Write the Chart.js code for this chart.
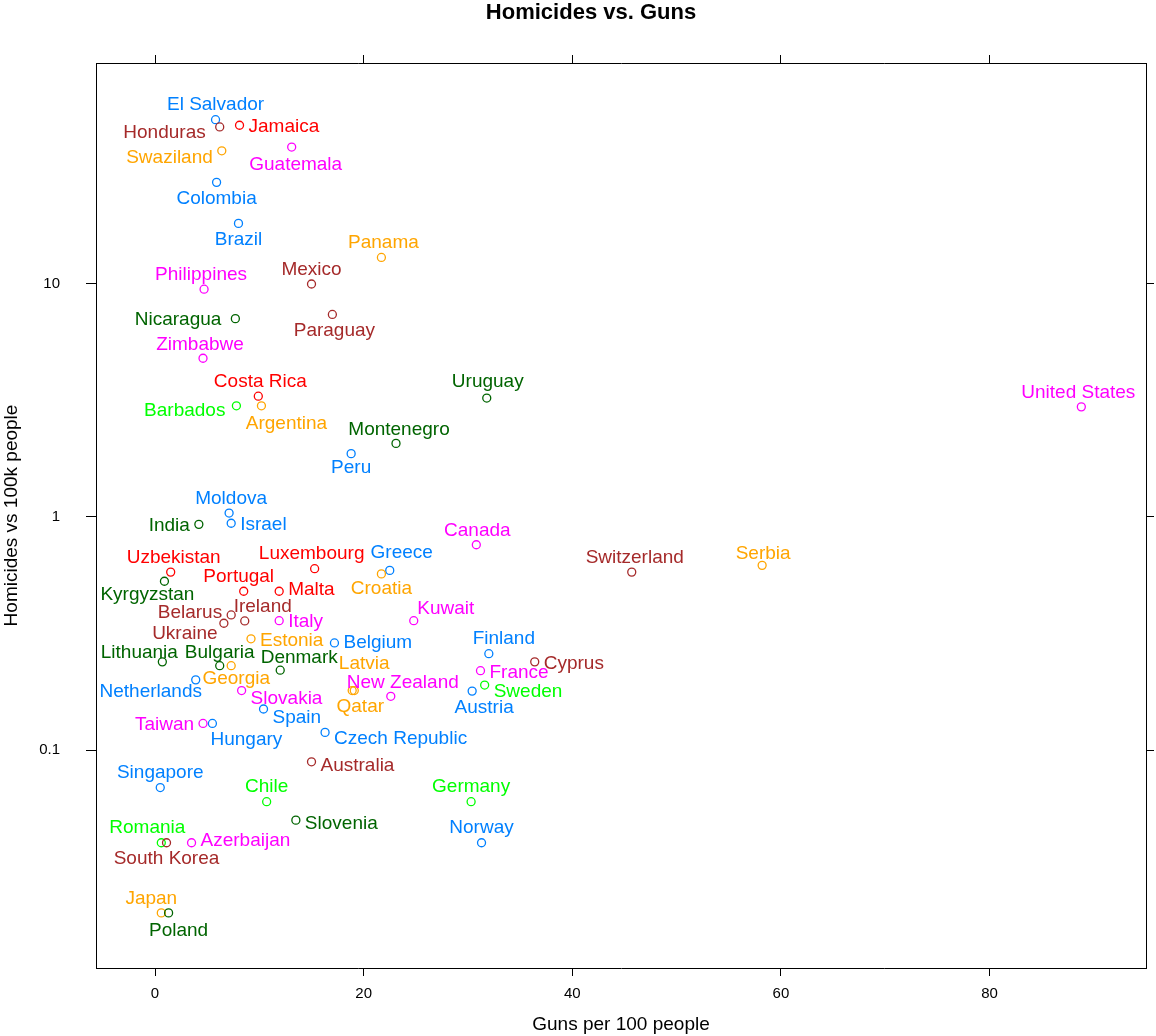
<!DOCTYPE html>
<html>
<head>
<meta charset="utf-8">
<script src="https://cdn.jsdelivr.net/npm/chart.js@4.4.0/dist/chart.umd.min.js"></script>
<style>
  body { margin: 0; background: #fff; }
</style>
</head>
<body>
<canvas id="chart" width="1156" height="1036"></canvas>
<script>
// values: guns per 100 people, homicides per 100k
countries = ["El Salvador", "Honduras", "Jamaica", "Swaziland", "Guatemala", "Colombia", "Brazil", "Panama",
  "Philippines", "Mexico", "Nicaragua", "Paraguay", "Zimbabwe", "Costa Rica", "Barbados", "Argentina",
  "Uruguay", "Montenegro", "Peru", "United States", "Moldova", "India", "Israel", "Canada",
  "Uzbekistan", "Luxembourg", "Greece", "Switzerland", "Serbia", "Kyrgyzstan", "Portugal", "Malta",
  "Croatia", "Belarus", "Ireland", "Kuwait", "Italy", "Ukraine", "Estonia", "Belgium",
  "Finland", "Lithuania", "Bulgaria", "Georgia", "Denmark", "Latvia", "Qatar", "New Zealand",
  "Cyprus", "France", "Sweden", "Austria", "Netherlands", "Slovakia", "Spain", "Taiwan",
  "Hungary", "Czech Republic", "Australia", "Singapore", "Chile", "Germany", "Slovenia", "Romania",
  "South Korea", "Azerbaijan", "Norway", "Japan", "Poland"]
guns = [5.8, 6.2, 8.1, 6.4, 13.1, 5.9, 8.0, 21.7,
  4.7, 15.0, 7.7, 17.0, 4.6, 9.9, 7.8, 10.2,
  31.8, 23.1, 18.8, 88.8, 7.1, 4.2, 7.3, 30.8,
  1.5, 15.3, 22.5, 45.7, 58.2, 0.9, 8.5, 11.9,
  21.7, 7.3, 8.6, 24.8, 11.9, 6.6, 9.2, 17.2,
  32.0, 0.7, 6.2, 7.3, 12.0, 18.9, 19.1, 22.6,
  36.4, 31.2, 31.6, 30.4, 3.9, 8.3, 10.4, 4.6,
  5.5, 16.3, 15.0, 0.5, 10.7, 30.3, 13.5, 0.6,
  1.1, 3.5, 31.3, 0.6, 1.3]
homicides = [50.7, 47.2, 48.0, 37.3, 38.7, 27.3, 18.2, 13.0,
  9.5, 10.0, 7.1, 7.4, 4.8, 3.3, 3.0, 3.0,
  3.24, 2.07, 1.87, 2.97, 1.04, 0.93, 0.94, 0.76,
  0.58, 0.60, 0.59, 0.58, 0.62, 0.53, 0.48, 0.48,
  0.57, 0.38, 0.358, 0.359, 0.359, 0.35, 0.30, 0.288,
  0.259, 0.239, 0.23, 0.23, 0.22, 0.18, 0.18, 0.17,
  0.239, 0.219, 0.19, 0.179, 0.20, 0.18, 0.15, 0.13,
  0.13, 0.119, 0.089, 0.069, 0.06, 0.06, 0.05, 0.04,
  0.04, 0.04, 0.04, 0.02, 0.02]

xTicks = [0, 20, 40, 60, 80]
yTicks = [0.1, 1, 10]
yTickLabels = ["0.1", "1", "10"]

// lattice style colours, one per country
palette = { blue: "#0080ff", magenta: "#ff00ff", dgreen: "#006400", red: "#ff0000",
  orange: "#ffa500", green: "#00ff00", brown: "#a52a2a" }
pointColor = ["blue", "brown", "red", "orange", "magenta", "blue", "blue", "orange",
  "magenta", "brown", "dgreen", "brown", "magenta", "red", "green", "orange",
  "dgreen", "dgreen", "blue", "magenta", "blue", "dgreen", "blue", "magenta",
  "red", "red", "blue", "brown", "orange", "dgreen", "red", "red",
  "orange", "brown", "brown", "magenta", "magenta", "brown", "orange", "blue",
  "blue", "dgreen", "dgreen", "orange", "dgreen", "orange", "orange", "magenta",
  "brown", "magenta", "green", "blue", "blue", "magenta", "blue", "magenta",
  "blue", "blue", "brown", "blue", "green", "green", "dgreen", "green",
  "brown", "magenta", "blue", "orange", "dgreen"]

// where each name goes: a=above b=below l=left r=right, plus a small nudge
labelSide = ["a", "l", "r", "l", "b", "b", "b", "a",
  "a", "a", "l", "b", "a", "a", "l", "b",
  "a", "a", "b", "a", "a", "l", "r", "a",
  "a", "a", "a", "a", "a", "b", "a", "r",
  "b", "l", "a", "a", "r", "b", "r", "r",
  "a", "a", "a", "b", "a", "a", "b", "a",
  "r", "r", "r", "b", "b", "r", "r", "l",
  "b", "r", "r", "a", "a", "a", "r", "a",
  "b", "r", "a", "a", "b"]
labelNudge = [[0,0], [-5,4], [0,0], [0,5], [4,1], [0,0], [0,0], [2,0],
  [-3,0], [0,0], [-5,0], [2,0], [-3,1], [2,0], [-2,3], [25,1],
  [1,-2], [3,1], [0,-2], [-3,0], [2,0], [0,0], [0,0], [1,0],
  [3,0], [-3,0], [12,-3], [3,0], [1,3], [-17,-3], [-5,0], [0,-3],
  [0,-2], [0,-4], [18,0], [32,3], [0,0], [-39,-6], [0,0], [0,-2],
  [15,0], [-23,5], [0,2], [5,-3], [19,2], [12,-12], [6,0], [12,1],
  [0,0], [0,1], [0,5], [12,0], [-45,-5], [0,7], [0,7], [0,0],
  [34,0], [0,5], [0,2], [0,0], [0,0], [0,0], [0,2], [-14,0],
  [0,0], [0,-3], [0,0], [-10,0], [10,1]]

xMin = -5.66
xMax = 95.0
yMin = 0.0116
yMax = 88.8

fontFam = '"Liberation Sans", Arial, Helvetica, sans-serif'

pointLabels = {
  id: "pointLabels",
  afterDatasetsDraw(chart) {
    var ctx = chart.ctx
    var pts = chart.getDatasetMeta(0).data
    ctx.save()
    ctx.font = "19px " + fontFam
    ctx.textBaseline = "middle"
    for (var i = 0; i < pts.length; i++) {
      var x = pts[i].x + labelNudge[i][0]
      var y = pts[i].y + labelNudge[i][1] + 1.5
      var side = labelSide[i]
      if (side == "a") { ctx.textAlign = "center"; y -= 16 }
      else if (side == "b") { ctx.textAlign = "center"; y += 15 }
      else if (side == "l") { ctx.textAlign = "right"; x -= 9 }
      else { ctx.textAlign = "left"; x += 9 }
      ctx.fillStyle = palette[pointColor[i]]
      ctx.fillText(countries[i], x, y)
    }
    ctx.restore()
  }
}

mainTitle = {
  id: "mainTitle",
  afterDraw(chart) {
    var ctx = chart.ctx
    ctx.save()
    ctx.font = "bold 22px " + fontFam
    ctx.fillStyle = "#000"
    ctx.textAlign = "center"
    ctx.textBaseline = "middle"
    ctx.fillText("Homicides vs. Guns", 591, 13)
    ctx.restore()
  }
}

function xAxis(pos, size, labels) {
  return {
    type: "linear", position: pos, min: xMin, max: xMax,
    afterBuildTicks: function (s) { s.ticks = xTicks.map(function (v) { return { value: v } }) },
    afterFit: function (s) { s.height = size },
    ticks: { display: labels, font: { size: 15, family: fontFam }, color: "#000", padding: 9, maxRotation: 0 },
    grid: { drawOnChartArea: false, drawTicks: true, tickLength: 8, color: "#000" },
    border: { display: true, color: "#000", width: 1 },
    title: { display: labels, text: "Guns per 100 people", font: { size: 19, family: fontFam }, color: "#000", padding: 0 }
  }
}

function yAxis(pos, size, labels) {
  return {
    type: "logarithmic", position: pos, min: yMin, max: yMax,
    afterBuildTicks: function (s) { s.ticks = yTicks.map(function (v) { return { value: v } }) },
    afterFit: function (s) { s.width = size },
    ticks: {
      display: labels, font: { size: 15, family: fontFam }, color: "#000", padding: 26,
      callback: function (v) { var k = yTicks.indexOf(v); return k < 0 ? "" : yTickLabels[k] }
    },
    grid: { drawOnChartArea: false, drawTicks: true, tickLength: labels ? 10 : 8, color: "#000" },
    border: { display: true, color: "#000", width: 1 },
    title: { display: labels, text: "Homicides vs 100k people", font: { size: 19, family: fontFam }, color: "#000", padding: 0 }
  }
}

var ctx = document.getElementById("chart").getContext("2d")
var chart = new Chart(ctx, {
  type: "scatter",
  data: {
    datasets: [{
      label: "countries",
      data: guns.map(function (g, i) { return { x: g, y: homicides[i] } }),
      pointRadius: 4,
      pointBorderWidth: 1.3,
      pointBackgroundColor: "rgba(0,0,0,0)",
      pointBorderColor: pointColor.map(function (c) { return palette[c] })
    }]
  },
  options: {
    responsive: false,
    animation: false,
    devicePixelRatio: 1,
    layout: { padding: 0 },
    plugins: { legend: { display: false }, tooltip: { enabled: false } },
    scales: {
      x: xAxis("bottom", 68, true),
      x2: xAxis("top", 63, false),
      y: yAxis("left", 96, true),
      y2: yAxis("right", 10, false)
    }
  },
  plugins: [pointLabels, mainTitle]
})
</script>
</body>
</html>
